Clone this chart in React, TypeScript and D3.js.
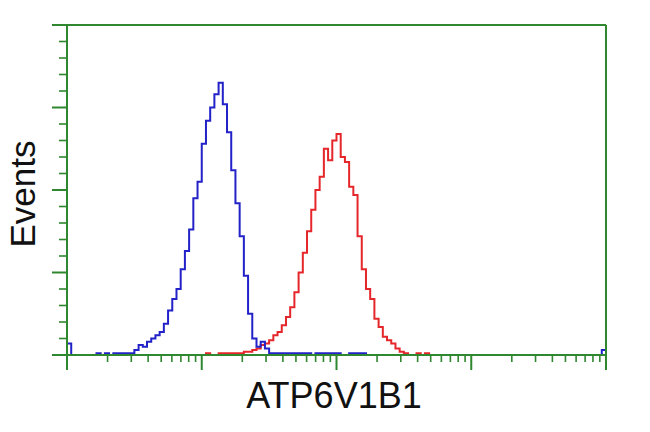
import React, { useEffect, useRef } from "react";
import * as d3 from "d3";

// Histogram bins: 32 bins per decade over 4 decades (128 bins), counts
const binsPerDecade = 32;
const decades = [1, 10, 100, 1000, 10000];

// blue (control) counts, bin index -> count
const blueBins = [0, 7, 9, 11, 12, 13, 14, 15, 16, 17, 18, 19, 20, 21, 22, 23, 24, 25, 26, 27, 28, 29, 30, 31, 32, 33, 34, 35, 36, 37, 38, 39, 40, 41, 42, 43, 44, 45, 46, 47, 48, 49, 50, 51, 52, 53, 54, 55, 56, 57, 59, 60, 61, 62, 63, 64, 67, 68, 69, 70, 127];
const blueCounts = [7, 1, 1, 1, 1, 1, 1, 1, 3, 6, 5, 8, 10, 12, 14, 19, 27, 34, 40, 52, 63, 76, 95, 105, 128, 142, 150, 158, 165, 152, 135, 112, 92, 72, 48, 25, 10, 5, 8, 4, 1, 1, 1, 1, 1, 1, 1, 1, 1, 1, 1, 1, 1, 1, 1, 1, 1, 1, 1, 1, 3];

// red (ATP6V1B1) counts
const redBins = [33, 36, 37, 38, 39, 40, 41, 42, 43, 44, 45, 46, 47, 48, 49, 50, 51, 52, 53, 54, 55, 56, 57, 58, 59, 60, 61, 62, 63, 64, 65, 66, 67, 68, 69, 70, 71, 72, 73, 74, 75, 76, 77, 78, 79, 80, 83, 85];
const redCounts = [1, 1, 1, 1, 1, 1, 1, 2, 2, 3, 4, 6, 7, 9, 12, 14, 18, 23, 29, 38, 50, 62, 75, 88, 100, 108, 125, 118, 130, 134, 120, 117, 102, 97, 72, 52, 40, 34, 22, 17, 11, 9, 7, 4, 2, 1, 1, 1];

const xLabel = "ATP6V1B1";
const yLabel = "Events";
const yMax = 200;

const totalBins = binsPerDecade * (decades.length - 1);

function fullSeries(bins: number[], counts: number[]) {
  const arr = new Array(totalBins).fill(0);
  bins.forEach((b, k) => (arr[b] = counts[k]));
  return arr;
}

export default function App() {
  const ref = useRef<SVGSVGElement>(null);
  useEffect(() => {
    const svg = d3.select(ref.current);
    svg.selectAll("*").remove();
    const left = 67, right = 606, top = 25, bottom = 355;
    const green = "#2f872f";
    const x = d3.scaleLog().domain([decades[0], decades[decades.length - 1]]).range([left, right]);
    const y = d3.scaleLinear().domain([0, yMax]).range([bottom, top]);

    const edge = (i: number) => Math.pow(10, i / binsPerDecade);
    const line = d3
      .line<[number, number]>()
      .x((d) => x(d[0]))
      .y((d) => y(d[1]))
      .curve(d3.curveStepAfter);

    const mk = (series: number[]) => {
      const pts: [number, number][] = series.map((c, i) => [edge(i), c]);
      pts.push([edge(totalBins), series[totalBins - 1]]);
      return line(pts) as string;
    };

    svg.append("path").attr("d", mk(fullSeries(redBins, redCounts))).attr("fill", "none").attr("stroke", "#e5262a").attr("stroke-width", 2);
    svg.append("path").attr("d", mk(fullSeries(blueBins, blueCounts))).attr("fill", "none").attr("stroke", "#2222c8").attr("stroke-width", 2);

    const g = svg.append("g").attr("stroke", green).attr("stroke-width", 2);
    // frame
    g.append("line").attr("x1", left).attr("x2", left).attr("y1", top).attr("y2", bottom);
    g.append("line").attr("x1", right).attr("x2", right).attr("y1", top).attr("y2", bottom);
    g.append("line").attr("x1", left).attr("x2", right).attr("y1", top).attr("y2", top);
    g.append("line").attr("x1", left).attr("x2", right).attr("y1", bottom).attr("y2", bottom);

    // x ticks
    x.ticks().forEach((t) => {
      const major = Math.abs(Math.log10(t) - Math.round(Math.log10(t))) < 1e-9;
      g.append("line")
        .attr("x1", x(t)).attr("x2", x(t))
        .attr("y1", bottom).attr("y2", bottom + (major ? 15 : 7))
        .attr("stroke-width", major ? 2 : 1.6);
    });
    // y ticks
    y.ticks(20).forEach((t) => {
      const major = t % 50 === 0;
      g.append("line")
        .attr("y1", y(t)).attr("y2", y(t))
        .attr("x1", left).attr("x2", left - (major ? 15 : 8))
        .attr("stroke-width", major ? 2 : 1.6);
    });

    svg.append("text")
      .attr("x", 334).attr("y", 408)
      .attr("text-anchor", "middle")
      .attr("font-family", "'Liberation Sans', Arial, sans-serif")
      .attr("font-size", 36)
      .attr("fill", "#111")
      .text(xLabel);
    svg.append("text")
      .attr("transform", "translate(35,194) rotate(-90)")
      .attr("text-anchor", "middle")
      .attr("font-family", "'Liberation Sans', Arial, sans-serif")
      .attr("font-size", 35)
      .attr("fill", "#111")
      .text(yLabel);
  }, []);
  return (
    <svg
      ref={ref}
      width={650}
      height={432}
      style={{ position: "absolute", left: 0, top: 0, background: "#fff" }}
    />
  );
}
